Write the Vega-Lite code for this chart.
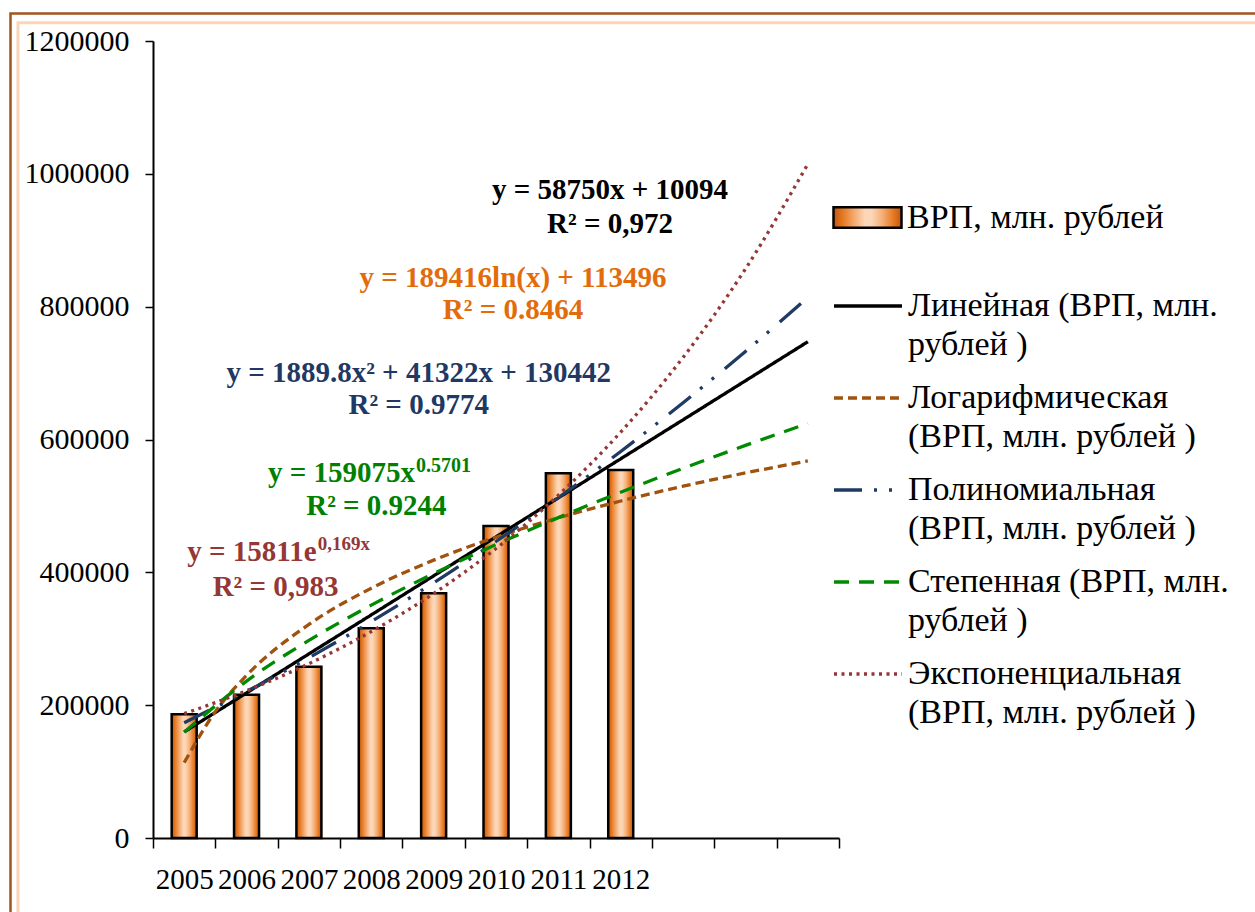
{
  "$schema": "https://vega.github.io/schema/vega-lite/v6.json",
  "autosize": {"type": "none"},
  "width": 686,
  "height": 797,
  "padding": {"left": 153, "top": 41, "right": 416, "bottom": 74},
  "background": "white",
  "config": {
    "view": {"stroke": null},
    "font": "Liberation Serif",
    "style": {"guide-label": {"lineHeight": 39}}
  },
  "resolve": {"axis": {"x": "independent"}},
  "datasets": {
    "bars": [
      {"t": 1, "year": 2005, "vrp": 186500},
      {"t": 2, "year": 2006, "vrp": 215800},
      {"t": 3, "year": 2007, "vrp": 258000},
      {"t": 4, "year": 2008, "vrp": 315700},
      {"t": 5, "year": 2009, "vrp": 368400},
      {"t": 6, "year": 2010, "vrp": 469700},
      {"t": 7, "year": 2011, "vrp": 549000},
      {"t": 8, "year": 2012, "vrp": 554000}
    ],
    "trends": [
      {"t": 1, "trend": "Линейная (ВРП, млн. рублей )", "value": 159690},
      {"t": 2, "trend": "Линейная (ВРП, млн. рублей )", "value": 218440},
      {"t": 3, "trend": "Линейная (ВРП, млн. рублей )", "value": 277190},
      {"t": 4, "trend": "Линейная (ВРП, млн. рублей )", "value": 335940},
      {"t": 5, "trend": "Линейная (ВРП, млн. рублей )", "value": 394690},
      {"t": 6, "trend": "Линейная (ВРП, млн. рублей )", "value": 453440},
      {"t": 7, "trend": "Линейная (ВРП, млн. рублей )", "value": 512190},
      {"t": 8, "trend": "Линейная (ВРП, млн. рублей )", "value": 570940},
      {"t": 9, "trend": "Линейная (ВРП, млн. рублей )", "value": 629690},
      {"t": 10, "trend": "Линейная (ВРП, млн. рублей )", "value": 688440},
      {"t": 11, "trend": "Линейная (ВРП, млн. рублей )", "value": 747190},
      {"t": 1, "trend": "Логарифмическая (ВРП, млн. рублей )", "value": 113496},
      {"t": 1.5, "trend": "Логарифмическая (ВРП, млн. рублей )", "value": 190296},
      {"t": 2, "trend": "Логарифмическая (ВРП, млн. рублей )", "value": 244790},
      {"t": 3, "trend": "Логарифмическая (ВРП, млн. рублей )", "value": 321588},
      {"t": 4, "trend": "Логарифмическая (ВРП, млн. рублей )", "value": 376084},
      {"t": 5, "trend": "Логарифмическая (ВРП, млн. рублей )", "value": 418342},
      {"t": 6, "trend": "Логарифмическая (ВРП, млн. рублей )", "value": 452892},
      {"t": 7, "trend": "Логарифмическая (ВРП, млн. рублей )", "value": 482081},
      {"t": 8, "trend": "Логарифмическая (ВРП, млн. рублей )", "value": 507368},
      {"t": 9, "trend": "Логарифмическая (ВРП, млн. рублей )", "value": 529681},
      {"t": 10, "trend": "Логарифмическая (ВРП, млн. рублей )", "value": 549645},
      {"t": 11, "trend": "Логарифмическая (ВРП, млн. рублей )", "value": 567697},
      {"t": 1, "trend": "Полиномиальная (ВРП, млн. рублей )", "value": 173654},
      {"t": 2, "trend": "Полиномиальная (ВРП, млн. рублей )", "value": 220645},
      {"t": 3, "trend": "Полиномиальная (ВРП, млн. рублей )", "value": 271416},
      {"t": 4, "trend": "Полиномиальная (ВРП, млн. рублей )", "value": 325967},
      {"t": 5, "trend": "Полиномиальная (ВРП, млн. рублей )", "value": 384297},
      {"t": 6, "trend": "Полиномиальная (ВРП, млн. рублей )", "value": 446407},
      {"t": 7, "trend": "Полиномиальная (ВРП, млн. рублей )", "value": 512296},
      {"t": 8, "trend": "Полиномиальная (ВРП, млн. рублей )", "value": 581965},
      {"t": 9, "trend": "Полиномиальная (ВРП, млн. рублей )", "value": 655414},
      {"t": 10, "trend": "Полиномиальная (ВРП, млн. рублей )", "value": 732642},
      {"t": 11, "trend": "Полиномиальная (ВРП, млн. рублей )", "value": 813650},
      {"t": 1, "trend": "Степенная (ВРП, млн. рублей )", "value": 159075},
      {"t": 2, "trend": "Степенная (ВРП, млн. рублей )", "value": 236165},
      {"t": 3, "trend": "Степенная (ВРП, млн. рублей )", "value": 297580},
      {"t": 4, "trend": "Степенная (ВРП, млн. рублей )", "value": 350617},
      {"t": 5, "trend": "Степенная (ВРП, млн. рублей )", "value": 398181},
      {"t": 6, "trend": "Степенная (ВРП, млн. рублей )", "value": 441815},
      {"t": 7, "trend": "Степенная (ВРП, млн. рублей )", "value": 482380},
      {"t": 8, "trend": "Степенная (ВРП, млн. рублей )", "value": 520525},
      {"t": 9, "trend": "Степенная (ВРП, млн. рублей )", "value": 556683},
      {"t": 10, "trend": "Степенная (ВРП, млн. рублей )", "value": 591154},
      {"t": 11, "trend": "Степенная (ВРП, млн. рублей )", "value": 624179},
      {"t": 1, "trend": "Экспоненциальная (ВРП, млн. рублей )", "value": 187221},
      {"t": 2, "trend": "Экспоненциальная (ВРП, млн. рублей )", "value": 221691},
      {"t": 3, "trend": "Экспоненциальная (ВРП, млн. рублей )", "value": 262509},
      {"t": 4, "trend": "Экспоненциальная (ВРП, млн. рублей )", "value": 310844},
      {"t": 5, "trend": "Экспоненциальная (ВРП, млн. рублей )", "value": 368079},
      {"t": 6, "trend": "Экспоненциальная (ВРП, млн. рублей )", "value": 435844},
      {"t": 7, "trend": "Экспоненциальная (ВРП, млн. рублей )", "value": 516107},
      {"t": 8, "trend": "Экспоненциальная (ВРП, млн. рублей )", "value": 611130},
      {"t": 9, "trend": "Экспоненциальная (ВРП, млн. рублей )", "value": 723648},
      {"t": 10, "trend": "Экспоненциальная (ВРП, млн. рублей )", "value": 856876},
      {"t": 11, "trend": "Экспоненциальная (ВРП, млн. рублей )", "value": 1014632}
    ]
  },
  "layer": [
    {
      "data": {"values": [{}]},
      "mark": {"type": "rect", "filled": false, "stroke": "#A3561C", "strokeWidth": 2.5},
      "encoding": {
        "x": {"datum": -1.785, "type": "quantitative", "scale": {"domain": [0.5, 11.5], "nice": false, "zero": false, "padding": 0}, "axis": null},
        "x2": {"datum": 30},
        "y": {"datum": 1241400, "type": "quantitative", "scale": {"domain": [0, 1200000], "nice": false}},
        "y2": {"datum": -400000}
      }
    },
    {
      "data": {"values": [{}]},
      "mark": {"type": "rect", "filled": false, "stroke": "#FCD5B8", "strokeWidth": 3},
      "encoding": {
        "x": {"datum": -1.665, "type": "quantitative", "axis": null},
        "x2": {"datum": 30},
        "y": {"datum": 1227500, "type": "quantitative"},
        "y2": {"datum": -400000}
      }
    },
    {
      "data": {"name": "bars"},
      "mark": {
        "type": "bar", "width": 25, "stroke": "black", "strokeWidth": 2.5,
        "color": {"gradient": "linear", "x1": 0, "y1": 0, "x2": 1, "y2": 0,
          "stops": [
            {"offset": 0, "color": "#C2560C"},
            {"offset": 0.14, "color": "#E67A22"},
            {"offset": 0.32, "color": "#F5AE76"},
            {"offset": 0.46, "color": "#FCD6B6"},
            {"offset": 0.56, "color": "#FCD6B6"},
            {"offset": 0.72, "color": "#F5AE76"},
            {"offset": 0.88, "color": "#E67A22"},
            {"offset": 1, "color": "#C2560C"}
          ]}
      },
      "encoding": {
        "x": {
          "field": "t", "type": "quantitative",
          "scale": {"domain": [0.5, 11.5], "nice": false, "zero": false, "padding": 0},
          "axis": {
            "orient": "bottom",
            "values": [0.5, 1.5, 2.5, 3.5, 4.5, 5.5, 6.5, 7.5, 8.5, 9.5, 10.5, 11.5],
            "title": null, "grid": false, "labels": false,
            "domainColor": "black", "domainWidth": 2,
            "tickColor": "black", "tickWidth": 1.5, "tickSize": 10
          }
        },
        "y": {
          "field": "vrp", "type": "quantitative",
          "axis": {
            "values": [0, 200000, 400000, 600000, 800000, 1000000, 1200000],
            "format": "d", "title": null, "grid": false,
            "domainColor": "black", "domainWidth": 2,
            "tickColor": "black", "tickWidth": 1.5, "tickSize": 8,
            "labelFont": "Liberation Serif", "labelFontSize": 30, "labelColor": "black",
            "labelPadding": 16
          }
        },
        "opacity": {
          "datum": "ВРП, млн. рублей", "type": "nominal",
          "scale": {"domain": ["ВРП, млн. рублей"], "range": [1]},
          "legend": {
            "orient": "none", "legendX": 679, "legendY": 141, "title": null, "padding": 0,
            "symbolType": "M-1,-0.3L1,-0.3L1,0.3L-1,0.3Z", "symbolSize": 4624,
            "symbolStrokeWidth": 2.5, "symbolOpacity": 1,
            "labelFont": "Liberation Serif", "labelFontSize": 34, "labelColor": "black",
            "labelOffset": 4, "labelLimit": 400
          }
        }
      }
    },
    {
      "data": {"name": "trends"},
      "mark": {"type": "line", "interpolate": "monotone", "strokeWidth": 3.3},
      "encoding": {
        "x": {
          "field": "t", "type": "quantitative",
          "axis": {
            "orient": "bottom",
            "values": [1, 2, 3, 4, 5, 6, 7, 8],
            "labelExpr": "'' + (2004 + datum.value)",
            "title": null, "grid": false, "ticks": false, "domain": false,
            "labelFont": "Liberation Serif", "labelFontSize": 29, "labelColor": "black",
            "labelPadding": 27, "labelFlush": false, "labelOverlap": false
          }
        },
        "y": {"field": "value", "type": "quantitative"},
        "stroke": {
          "field": "trend", "type": "nominal",
          "scale": {
            "domain": ["Линейная (ВРП, млн. рублей )", "Логарифмическая (ВРП, млн. рублей )", "Полиномиальная (ВРП, млн. рублей )", "Степенная (ВРП, млн. рублей )", "Экспоненциальная (ВРП, млн. рублей )"],
            "range": ["#000000", "#A0520F", "#1F3B63", "#008A00", "#953735"]
          },
          "legend": {
            "orient": "none", "legendX": 679, "legendY": 229, "title": null, "padding": 0,
            "symbolType": "stroke", "symbolSize": 4624, "symbolStrokeWidth": 3.3,
            "labelFont": "Liberation Serif", "labelFontSize": 34, "labelColor": "black",
            "labelOffset": 4, "labelLimit": 400, "rowPadding": -2, "labelBaseline": "middle",
            "labelExpr": "datum.label == 'Линейная (ВРП, млн. рублей )' ? ['Линейная (ВРП, млн.', 'рублей )'] : datum.label == 'Степенная (ВРП, млн. рублей )' ? ['Степенная (ВРП, млн.', 'рублей )'] : [split(datum.label, ' (')[0], '(' + split(datum.label, ' (')[1]]"
          }
        },
        "strokeDash": {
          "field": "trend", "type": "nominal",
          "scale": {
            "domain": ["Линейная (ВРП, млн. рублей )", "Логарифмическая (ВРП, млн. рублей )", "Полиномиальная (ВРП, млн. рублей )", "Степенная (ВРП, млн. рублей )", "Экспоненциальная (ВРП, млн. рублей )"],
            "range": [[1, 0], [9, 5], [28, 12, 3, 12, 3, 14], [15, 10], [3, 4.5]]
          },
          "legend": {
            "orient": "none", "legendX": 679, "legendY": 229, "title": null, "padding": 0,
            "symbolType": "stroke", "symbolSize": 4624, "symbolStrokeWidth": 3.3,
            "labelFont": "Liberation Serif", "labelFontSize": 34, "labelColor": "black",
            "labelOffset": 4, "labelLimit": 400, "rowPadding": -2, "labelBaseline": "middle",
            "labelExpr": "datum.label == 'Линейная (ВРП, млн. рублей )' ? ['Линейная (ВРП, млн.', 'рублей )'] : datum.label == 'Степенная (ВРП, млн. рублей )' ? ['Степенная (ВРП, млн.', 'рублей )'] : [split(datum.label, ' (')[0], '(' + split(datum.label, ' (')[1]]"
          }
        }
      }
    },
    {
      "data": {"values": [{}]},
      "mark": {"type": "text", "font": "Liberation Serif", "fontWeight": "bold", "fontSize": 29, "color": "#000000", "align": "center", "baseline": "alphabetic", "lineHeight": 34},
      "encoding": {
        "x": {"datum": 7.828, "type": "quantitative", "axis": null},
        "y": {"datum": 961357, "type": "quantitative"},
        "text": {"value": ["y = 58750x + 10094", "R² = 0,972"]}
      }
    },
    {
      "data": {"values": [{}]},
      "mark": {"type": "text", "font": "Liberation Serif", "fontWeight": "bold", "fontSize": 29, "color": "#E36C0A", "align": "center", "baseline": "alphabetic", "lineHeight": 32},
      "encoding": {
        "x": {"datum": 6.273, "type": "quantitative", "axis": null},
        "y": {"datum": 828860, "type": "quantitative"},
        "text": {"value": ["y = 189416ln(x) + 113496", "R² = 0.8464"]}
      }
    },
    {
      "data": {"values": [{}]},
      "mark": {"type": "text", "font": "Liberation Serif", "fontWeight": "bold", "fontSize": 29, "color": "#1F3864", "align": "center", "baseline": "alphabetic", "lineHeight": 32},
      "encoding": {
        "x": {"datum": 4.76, "type": "quantitative", "axis": null},
        "y": {"datum": 685823, "type": "quantitative"},
        "text": {"value": ["y = 1889.8x² + 41322x + 130442", "R² = 0.9774"]}
      }
    },
    {
      "data": {"values": [{}]},
      "mark": {"type": "text", "font": "Liberation Serif", "fontWeight": "bold", "fontSize": 29, "color": "#008000", "align": "right", "baseline": "alphabetic"},
      "encoding": {
        "x": {"datum": 4.701, "type": "quantitative", "axis": null},
        "y": {"datum": 535259, "type": "quantitative"},
        "text": {"value": "y = 159075x"}
      }
    },
    {
      "data": {"values": [{}]},
      "mark": {"type": "text", "font": "Liberation Serif", "fontWeight": "bold", "fontSize": 20, "color": "#008000", "align": "left", "baseline": "alphabetic", "dx": 1, "dy": -10},
      "encoding": {
        "x": {"datum": 4.701, "type": "quantitative", "axis": null},
        "y": {"datum": 535259, "type": "quantitative"},
        "text": {"value": "0.5701"}
      }
    },
    {
      "data": {"values": [{}]},
      "mark": {"type": "text", "font": "Liberation Serif", "fontWeight": "bold", "fontSize": 29, "color": "#008000", "align": "center", "baseline": "alphabetic"},
      "encoding": {
        "x": {"datum": 4.082, "type": "quantitative", "axis": null},
        "y": {"datum": 486325, "type": "quantitative"},
        "text": {"value": "R² = 0.9244"}
      }
    },
    {
      "data": {"values": [{}]},
      "mark": {"type": "text", "font": "Liberation Serif", "fontWeight": "bold", "fontSize": 29, "color": "#953735", "align": "right", "baseline": "alphabetic"},
      "encoding": {
        "x": {"datum": 3.124, "type": "quantitative", "axis": null},
        "y": {"datum": 416312, "type": "quantitative"},
        "text": {"value": "y = 15811e"}
      }
    },
    {
      "data": {"values": [{}]},
      "mark": {"type": "text", "font": "Liberation Serif", "fontWeight": "bold", "fontSize": 19, "color": "#953735", "align": "left", "baseline": "alphabetic", "dx": 1, "dy": -11},
      "encoding": {
        "x": {"datum": 3.124, "type": "quantitative", "axis": null},
        "y": {"datum": 416312, "type": "quantitative"},
        "text": {"value": "0,169x"}
      }
    },
    {
      "data": {"values": [{}]},
      "mark": {"type": "text", "font": "Liberation Serif", "fontWeight": "bold", "fontSize": 29, "color": "#953735", "align": "center", "baseline": "alphabetic"},
      "encoding": {
        "x": {"datum": 2.466, "type": "quantitative", "axis": null},
        "y": {"datum": 364367, "type": "quantitative"},
        "text": {"value": "R² = 0,983"}
      }
    }
  ]
}
